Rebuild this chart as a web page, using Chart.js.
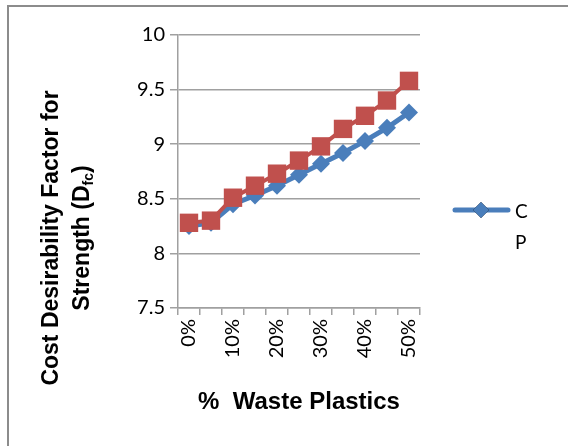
<!DOCTYPE html>
<html>
<head>
<meta charset="utf-8">
<script src="https://cdn.jsdelivr.net/npm/chart.js@4/dist/chart.umd.min.js"></script>
<style>
  html, body { margin: 0; padding: 0; background: #fff; }
  #wrap { width: 568px; height: 446px; position: relative; }
</style>
</head>
<body>
<div id="wrap"><canvas id="chart" width="568" height="446"></canvas></div>
<script>
// % waste plastics
var categories = ['0%', '5%', '10%', '15%', '20%', '25%', '30%', '35%', '40%', '45%', '50%'];
var cpValues = [8.25, 8.28, 8.45, 8.53, 8.62, 8.72, 8.82, 8.92, 9.03, 9.15, 9.29];
var cwValues = [8.28, 8.30, 8.51, 8.62, 8.73, 8.85, 8.98, 9.14, 9.26, 9.40, 9.58];
var yTicks = [7.5, 8, 8.5, 9, 9.5, 10];

var BLUE = '#4a7ebb';
var RED = '#c0504d';
var GRID = '#a0a0a0';
var FONT = 'Lato, "Liberation Sans", sans-serif';
var BOLD = '"Liberation Sans", Arial, sans-serif';

// frame, rotated y title with subscript, and the single legend entry
var decorations = {
    id: 'decorations',
    beforeDraw: function(chart) {
        var ctx = chart.ctx;
        ctx.save();
        ctx.strokeStyle = '#8c8c8c';
        ctx.lineWidth = 2;
        ctx.strokeRect(8, 6, 700, 700);
        ctx.restore();
    },
    afterDraw: function(chart) {
        var ctx = chart.ctx;
        ctx.save();

        // y axis title
        ctx.translate(0, 238);
        ctx.rotate(-Math.PI / 2);
        ctx.fillStyle = '#000';
        ctx.textBaseline = 'middle';
        ctx.font = 'bold 23px ' + BOLD;
        ctx.textAlign = 'center';
        ctx.fillText('Cost Desirability Factor for', 0, 52);

        var a = 'Strength (D', sub = 'fc', b = ')';
        ctx.font = 'bold 23px ' + BOLD;
        var wa = ctx.measureText(a).width, wb = ctx.measureText(b).width;
        ctx.font = 'bold 14px ' + BOLD;
        var ws = ctx.measureText(sub).width;
        var x = -(wa + ws + wb) / 2;
        ctx.textAlign = 'left';
        ctx.font = 'bold 23px ' + BOLD;
        ctx.fillText(a, x, 83);
        ctx.font = 'bold 14px ' + BOLD;
        ctx.fillText(sub, x + wa, 89);
        ctx.font = 'bold 23px ' + BOLD;
        ctx.fillText(b, x + wa + ws, 83);
        ctx.restore();

        // legend
        var ds = chart.data.datasets[0];
        ctx.save();
        ctx.strokeStyle = ds.borderColor;
        ctx.lineWidth = 5;
        ctx.lineCap = 'round';
        ctx.beginPath();
        ctx.moveTo(455, 210);
        ctx.lineTo(508, 210);
        ctx.stroke();
        Chart.helpers.drawPoint(ctx, {pointStyle: 'rectRot', radius: 8, rotation: 0, borderWidth: 0}, 481, 210);
        ctx.fillStyle = ds.borderColor;
        ctx.fill();
        ctx.fillStyle = '#000';
        ctx.font = '19px ' + FONT;
        ctx.textBaseline = 'middle';
        ctx.fillText('C', 515, 212);
        ctx.fillText('P', 515, 243);
        ctx.restore();
    }
};

new Chart(document.getElementById('chart'), {
    type: 'line',
    data: {
        labels: categories,
        datasets: [{
            label: 'CP',
            data: cpValues,
            borderColor: BLUE,
            backgroundColor: BLUE,
            borderWidth: 5,
            pointStyle: 'rectRot',
            pointRadius: 9,
            pointBorderWidth: 0,
            tension: 0,
            order: 1
        }, {
            label: 'CW',
            data: cwValues,
            borderColor: RED,
            backgroundColor: RED,
            borderWidth: 4,
            pointStyle: 'rect',
            pointRadius: 13,
            pointBorderWidth: 0,
            tension: 0,
            order: 0
        }]
    },
    options: {
        responsive: false,
        animation: false,
        layout: { padding: { left: 0, top: 35, right: 148, bottom: 0 } },
        plugins: {
            legend: { display: false },
            tooltip: { enabled: false }
        },
        scales: {
            x: {
                offset: true,
                grid: {
                    offset: true,
                    drawOnChartArea: false,
                    tickLength: 7,
                    color: GRID,
                    lineWidth: 1.5
                },
                border: { color: GRID, width: 1.5 },
                ticks: {
                    autoSkip: false,
                    minRotation: 90,
                    maxRotation: 90,
                    padding: 4,
                    color: '#000',
                    font: { family: FONT, size: 20 },
                    callback: function(v, i) { return i % 2 === 0 ? categories[i] : ''; }
                },
                title: {
                    display: true,
                    text: '%  Waste Plastics',
                    color: '#000',
                    font: { family: BOLD, size: 24, weight: 'bold' },
                    padding: { top: 0, bottom: 29 }
                },
                afterFit: function(scale) { scale.height = 138; }
            },
            y: {
                min: 7.5,
                max: 10,
                afterBuildTicks: function(scale) {
                    scale.ticks = yTicks.map(function(v) { return { value: v }; });
                },
                grid: {
                    color: GRID,
                    lineWidth: 1.5,
                    tickLength: 8
                },
                border: { color: GRID, width: 1.5 },
                ticks: {
                    padding: 5,
                    color: '#000',
                    font: { family: FONT, size: 20 },
                    callback: function(v) { return String(v); }
                },
                afterFit: function(scale) { scale.width = 178; }
            }
        }
    },
    plugins: [decorations]
});
</script>
</body>
</html>
